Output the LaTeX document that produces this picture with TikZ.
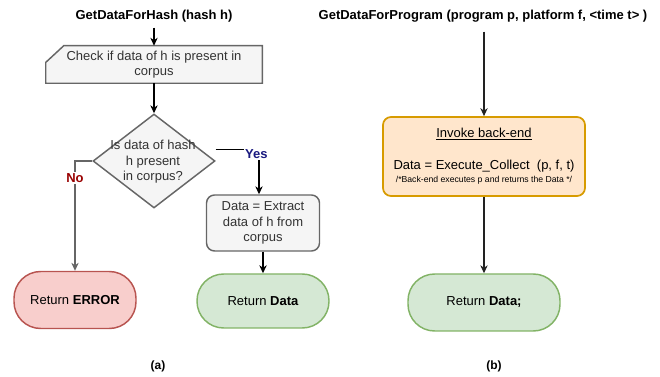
\documentclass[tikz,border=0pt]{standalone}
\usepackage{fontspec}
\setmainfont{Liberation Sans}
\usetikzlibrary{arrows.meta,shapes.geometric,backgrounds}
\definecolor{gstroke}{HTML}{666666}
\definecolor{gfill}{HTML}{F5F5F5}
\definecolor{gtext}{HTML}{333333}
\definecolor{rfill}{HTML}{F8CECC}
\definecolor{rstroke}{HTML}{B85450}
\definecolor{gnfill}{HTML}{D5E8D4}
\definecolor{gnstroke}{HTML}{82B366}
\definecolor{ofill}{HTML}{FFE6CC}
\definecolor{ostroke}{HTML}{D79B00}
\definecolor{yescol}{HTML}{1A1A80}
\definecolor{nocol}{HTML}{990000}
\definecolor{dline}{HTML}{222222}
\begin{document}
\begin{tikzpicture}[x=0.75pt,y=-0.75pt,
  txt/.style={font=\fontsize{9.75}{11.7}\selectfont, align=center},
  ttl/.style={font=\bfseries\fontsize{9.75}{11.7}\selectfont, inner sep=1pt},
  greybox/.style={draw=gstroke, fill=gfill, line width=1.1pt},
  arr/.style={-{Stealth[length=6pt,width=5.5pt]}, line width=0.8pt},
  term/.style={draw, line width=1.1pt, rounded corners=20pt, txt, inner sep=0pt},
  edgelbl/.style={fill=white, font=\bfseries\fontsize{9.75}{11.7}\selectfont, inner sep=1pt},
  sublbl/.style={font=\bfseries\fontsize{9}{11}\selectfont}]
\useasboundingbox (0,0) rectangle (660,377);

% ---------- (a) ----------
\node[ttl] (t1) at (154,16) {GetDataForHash (hash h)};
\node[txt, text=gtext, minimum width=162pt, minimum height=27.75pt, inner sep=0pt] (chk) at (154,64.5)
  {Check if data of h is present in\\corpus};
\begin{pgfonlayer}{background}
  \draw[greybox] ([yshift=-12.5pt]chk.north west) -- ([xshift=13.5pt]chk.north west)
    -- (chk.north east) -- (chk.south east) -- (chk.south west) -- cycle;
\end{pgfonlayer}
\node[diamond, greybox, minimum width=91.5pt, minimum height=70.5pt, inner sep=0pt] (dia) at (154,161) {};
\node[txt, text=gtext] (diat) at (153,162) {Is data of hash\\h present\\in corpus?};
\node[greybox, txt, text=gtext, rounded corners=6pt, minimum width=84.75pt, minimum height=42pt, inner sep=0pt] (ext) at (263,223)
  {Data = Extract\\data of h from\\corpus};
\node[term, fill=rfill, draw=rstroke, minimum width=91.5pt, minimum height=42.75pt] (err) at (75,300)
  {Return \textbf{ERROR}};
\node[term, fill=gnfill, draw=gnstroke, minimum width=99pt, minimum height=40.5pt] (reta) at (263,301)
  {Return \textbf{Data}};
\node[sublbl] (la) at (158,366) {(a)};

\draw[arr, shorten <=3pt] (t1) -- (chk);
\draw[arr] (chk) -- (dia);
\draw[arr] ([yshift=8.5pt]dia.east) -| node[pos=0.5, edgelbl, text=yescol, xshift=-2pt, yshift=-3pt] {Yes} ([xshift=-3pt]ext.north);
\draw[arr, draw=gstroke] (dia.west) -| node[pos=0.577, edgelbl, text=nocol] {No} (err.north);
\draw[arr, line width=1.4pt] (ext) -- (reta);

% ---------- (b) ----------
\node[ttl] (t2) at (483,16) {GetDataForProgram (program p, platform f, <time t> )};
\node[draw=ostroke, fill=ofill, line width=1.3pt, rounded corners=6pt, txt, minimum width=151.5pt, minimum height=59.25pt, inner sep=0pt] (inv) at (484,156.5)
  {\underline{Invoke back-end}\\[12pt]Data = Execute\_Collect~~(p, f, t)\\[-1.5pt]{\fontsize{6.5}{8}\selectfont /*Back-end executes p and returns the Data */}};
\node[term, fill=gnfill, draw=gnstroke, minimum width=114pt, minimum height=42.75pt] (retb) at (484,302.5)
  {Return \textbf{Data;}};
\node[sublbl] (lb) at (494,366) {(b)};

\draw[arr, draw=dline, shorten <=6pt] (t2.south -| inv.north) -- (inv);
\draw[arr, draw=dline] (inv) -- (retb);
\end{tikzpicture}
\end{document}
